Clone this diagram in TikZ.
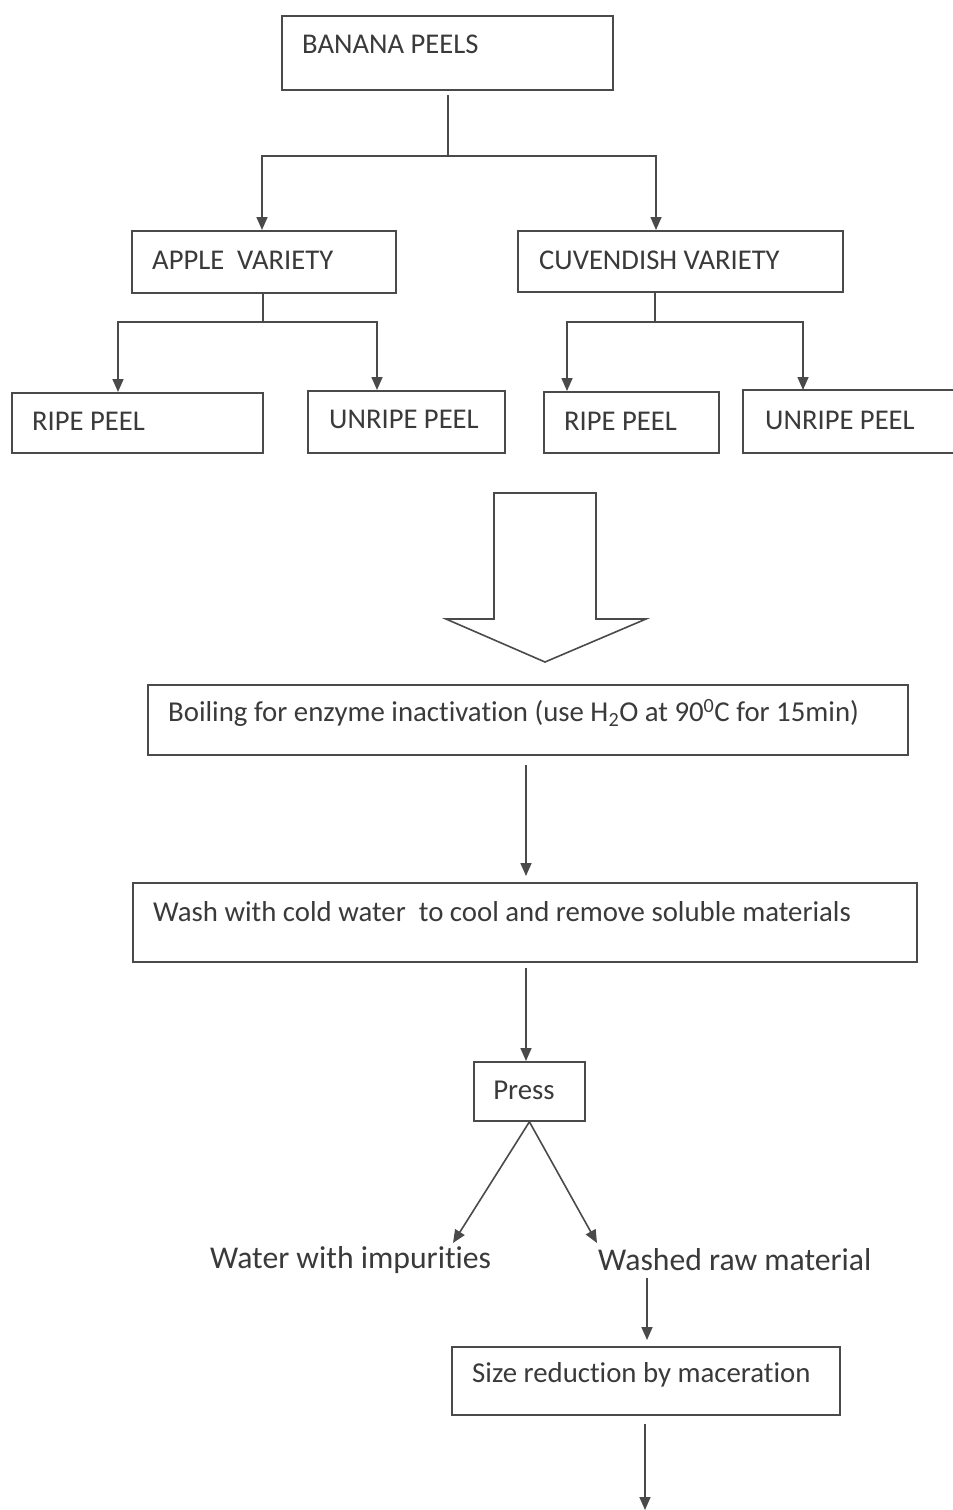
\documentclass[tikz,border=0pt]{standalone}
\usepackage{fontspec}
\setmainfont{Carlito}[Ligatures=NoCommon]
\usetikzlibrary{arrows.meta,calc}
\definecolor{ink}{HTML}{4A4A4A}
\definecolor{txtc}{HTML}{3A3A3A}
\tikzset{
  boxline/.style={draw=ink, line width=1.8pt},
  box/.style={boxline, rectangle, inner sep=0pt, anchor=north west},
  capsl/.style={text=txtc, anchor=west, inner sep=0pt, font=\fontsize{28.6}{32}\selectfont},
  bodyl/.style={text=txtc, anchor=west, inner sep=0pt, font=\fontsize{28.8}{32}\selectfont},
  bigl/.style={text=txtc, anchor=west, inner sep=0pt, font=\fontsize{31.7}{36}\selectfont},
  conn/.style={draw=ink, line width=1.6pt},
  arr/.style={conn, -{Triangle[length=13pt,width=11pt]}},
}
\begin{document}
\begin{tikzpicture}[x=1pt,y=-1pt]
\useasboundingbox[fill=white] (0,0) rectangle (953,1510);

% boxes
\node[box, minimum width=331, minimum height=74] (bp) at (281,15) {};
\node[capsl] (bpt) at (302,44) {BANANA PEELS};

\node[box, minimum width=264, minimum height=62] (av) at (131,230) {};
\node[capsl] (avt) at (152,260) {APPLE\ \ VARIETY};

\node[box, minimum width=325, minimum height=61] (cv) at (517,230) {};
\node[capsl] (cvt) at (539,260) {CUVENDISH VARIETY};

\node[box, minimum width=251, minimum height=60] (rp1) at (11,392) {};
\node[capsl] (rp1t) at (32,421) {RIPE PEEL};

\node[box, minimum width=197, minimum height=62] (up1) at (307,390) {};
\node[capsl] (up1t) at (329,419) {UNRIPE PEEL};

\node[box, minimum width=175, minimum height=61] (rp2) at (543,391) {};
\node[capsl] (rp2t) at (564,421) {RIPE PEEL};

\node[box, draw=none, minimum width=210, minimum height=61] (up2) at (743,390) {};
\draw[boxline] (up2.north east) -- (up2.north west) -- (up2.south west) -- (up2.south east);
\node[capsl] (up2t) at (765,420) {UNRIPE PEEL};

% tree connectors
\coordinate (j1) at (448,156);
\draw[conn] (448,95) -- (j1);
\draw[arr] (j1) -| (262,230);
\draw[arr] (j1) -| (656,230);

\coordinate (j2) at (263,322);
\draw[conn] (263,292) -- (j2);
\draw[arr] (j2) -| (118,392);
\draw[arr] (j2) -| (377,390);

\coordinate (j3) at (655,322);
\draw[conn] (655,291) -- (j3);
\draw[arr] (j3) -| (567,391);
\draw[arr] (j3) -| (803,390);

% block arrow
\draw[boxline, line width=1.6pt, line join=miter] (494,493) -- (494,619) -- (446,619) -- (545,662) -- (646,619) -- (596,619) -- (596,493) -- cycle;

% process boxes
\node[box, minimum width=760, minimum height=70] (boil) at (147,684) {};
\node[bodyl] (boilt) at (168,713) {Boiling for enzyme inactivation (use H\textsubscript{2}O at 90\textsuperscript{0}C for 15min)};

\node[box, minimum width=784, minimum height=79] (wash) at (132,882) {};
\node[bodyl] (washt) at (153,912) {Wash with cold water\ \ to cool and remove soluble materials};

\node[box, minimum width=111, minimum height=59] (press) at (473,1061) {};
\node[bodyl, anchor=center] (presst) at (524,1090) {Press};

\node[bigl] (water) at (210,1260) {Water with impurities};
\node[bigl] (washed) at (598,1260) {Washed raw material};

\node[box, minimum width=388, minimum height=68] (size) at (451,1346) {};
\node[bodyl] (sizet) at (472,1375) {Size reduction by maceration};

\coordinate (endp) at (645,1510);

% flow arrows
\draw[arr] (526,765) -- (526,876);
\draw[arr] (526,968) -- (press.north -| 526,0);
\draw[arr] (press.south) -- (453,1243);
\draw[arr] (press.south) -- (597,1243);
\draw[arr] (647,1278) -- (647,1340);
\draw[arr] (645,1424) -- (endp);
\end{tikzpicture}
\end{document}
